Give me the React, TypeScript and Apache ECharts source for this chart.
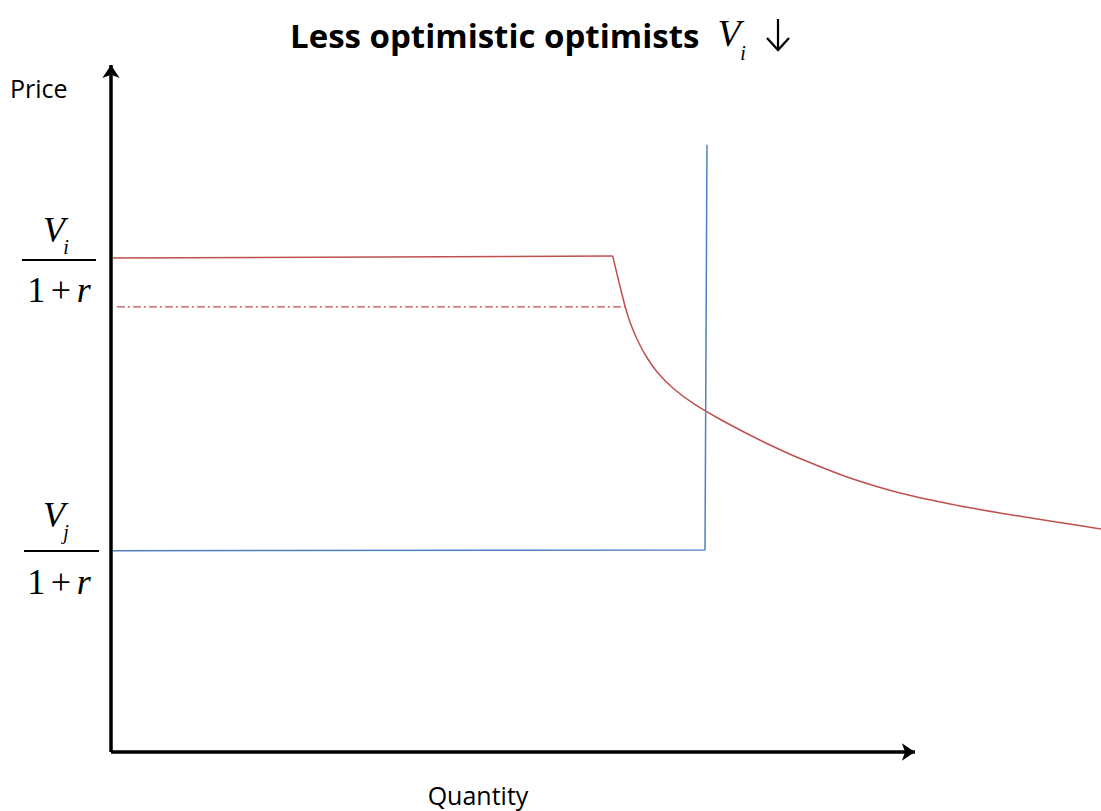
import React, { useEffect, useRef } from "react";
import * as echarts from "echarts";

// Demand of optimists (red): flat segment then declining curve
const optimistFlat: [number, number][] = [
  [0.2, 71.9], [50.68, 72.2],
];
const optimistCurve: [number, number][] = [
  [50.68, 72.2], [51.11, 69.58], [51.52, 67.18], [51.92, 64.92], [52.42, 62.59],
  [53.13, 60.12], [54.04, 57.64], [55.25, 55.17], [56.87, 52.84], [58.89, 50.66],
  [61.11, 48.76], [63.54, 46.87], [66.57, 44.69], [69.6, 42.72], [74.65, 39.88],
  [79.7, 37.7], [84.75, 36.1], [89.8, 34.79], [94.85, 33.62], [100, 32.46],
];
// Supply / pessimists (blue)
const supplyLine: [number, number][] = [
  [0.2, 29.3], [60.0, 29.4], [60.2, 88.4],
];
// Old optimist valuation level (dash-dot)
const oldLevel: [number, number][] = [
  [0.6, 64.8], [51.9, 64.8],
];
const xAxisEnd = 81.2;
const yAxisEnd = 100;

const RED = "#C0504D";
const BLUE = "#4F81BD";
const SERIF = "'Liberation Serif', 'Times New Roman', serif";
const SANS = "'Open Sans', 'Noto Sans', sans-serif";

function fraction(sub: string, vY: number, barY: number, nY: number, barX0: number, barX1: number) {
  return [
    { type: "text", x: 54, y: vY, style: { text: "V", font: `italic 36px ${SERIF}`, fill: "#000", align: "center", verticalAlign: "middle" } },
    { type: "text", x: 66, y: vY + 17, style: { text: sub, font: `italic 20px ${SERIF}`, fill: "#000", align: "center", verticalAlign: "middle" } },
    { type: "line", shape: { x1: barX0, y1: barY, x2: barX1, y2: barY }, style: { stroke: "#000", lineWidth: 2 } },
    {
      type: "text", x: 59, y: nY,
      style: {
        text: "{a|1}{s| }{a|+}{s| }{b|r}", align: "center", verticalAlign: "middle",
        rich: {
          a: { font: `36px ${SERIF}`, fill: "#000" },
          s: { font: `22px ${SERIF}`, fill: "#000" },
          b: { font: `italic 36px ${SERIF}`, fill: "#000" },
        },
      },
    },
  ];
}

export default function App() {
  const ref = useRef<HTMLDivElement>(null);
  useEffect(() => {
    document.body.style.margin = "0";
    const chart = echarts.init(ref.current!, null, { renderer: "svg" });
    chart.setOption({
      animation: false,
      backgroundColor: "#fff",
      grid: { left: 111, right: 0, top: 65, bottom: 59 },
      xAxis: { type: "value", min: 0, max: 100, show: false },
      yAxis: { type: "value", min: 0, max: 100, show: false },
      graphic: [
        {
          type: "text", x: 290, y: 35,
          style: { text: "Less optimistic optimists", font: `bold 33px ${SANS}`, fill: "#000", align: "left", verticalAlign: "middle" },
        },
        { type: "text", x: 729, y: 33, style: { text: "V", font: `italic 38px ${SERIF}`, fill: "#000", align: "center", verticalAlign: "middle" } },
        { type: "text", x: 743, y: 53, style: { text: "i", font: `italic 20px ${SERIF}`, fill: "#000", align: "center", verticalAlign: "middle" } },
        { type: "line", shape: { x1: 778, y1: 19, x2: 778, y2: 50 }, style: { stroke: "#000", lineWidth: 2.2 } },
        { type: "polyline", shape: { points: [[767, 38], [778, 50], [789, 38]] }, style: { stroke: "#000", lineWidth: 2.2, fill: "none" } },
        { type: "text", x: 10, y: 88, style: { text: "Price", font: `25px ${SANS}`, fill: "#000", align: "left", verticalAlign: "middle" } },
        { type: "text", x: 478, y: 795, style: { text: "Quantity", font: `25px ${SANS}`, fill: "#000", align: "center", verticalAlign: "middle" } },
        ...fraction("i", 230, 260, 290, 22, 96),
        ...fraction("j", 515, 551, 582, 24, 99),
      ],
      series: [
        {
          type: "line", data: [], silent: true,
          markLine: {
            silent: true, symbol: ["none", "arrow"], symbolSize: [13, 13],
            label: { show: false },
            lineStyle: { color: "#000", width: 3.5, type: "solid" },
            data: [
              [{ coord: [0, 0] }, { coord: [xAxisEnd, 0] }],
              [{ coord: [0, 0] }, { coord: [0, yAxisEnd] }],
            ],
          },
        },
        {
          type: "line", data: optimistFlat, showSymbol: false,
          lineStyle: { color: RED, width: 1.5 },
        },
        {
          type: "line", data: optimistCurve, smooth: 0.2, showSymbol: false,
          lineStyle: { color: RED, width: 1.5 },
        },
        {
          type: "line", data: oldLevel, showSymbol: false,
          lineStyle: { color: RED, width: 1.2, type: [8, 3, 2, 3] },
        },
        {
          type: "line", data: supplyLine, showSymbol: false,
          lineStyle: { color: BLUE, width: 1.5 },
        },
      ],
    });
    return () => chart.dispose();
  }, []);
  return <div ref={ref} style={{ width: 1101, height: 811 }} />;
}
